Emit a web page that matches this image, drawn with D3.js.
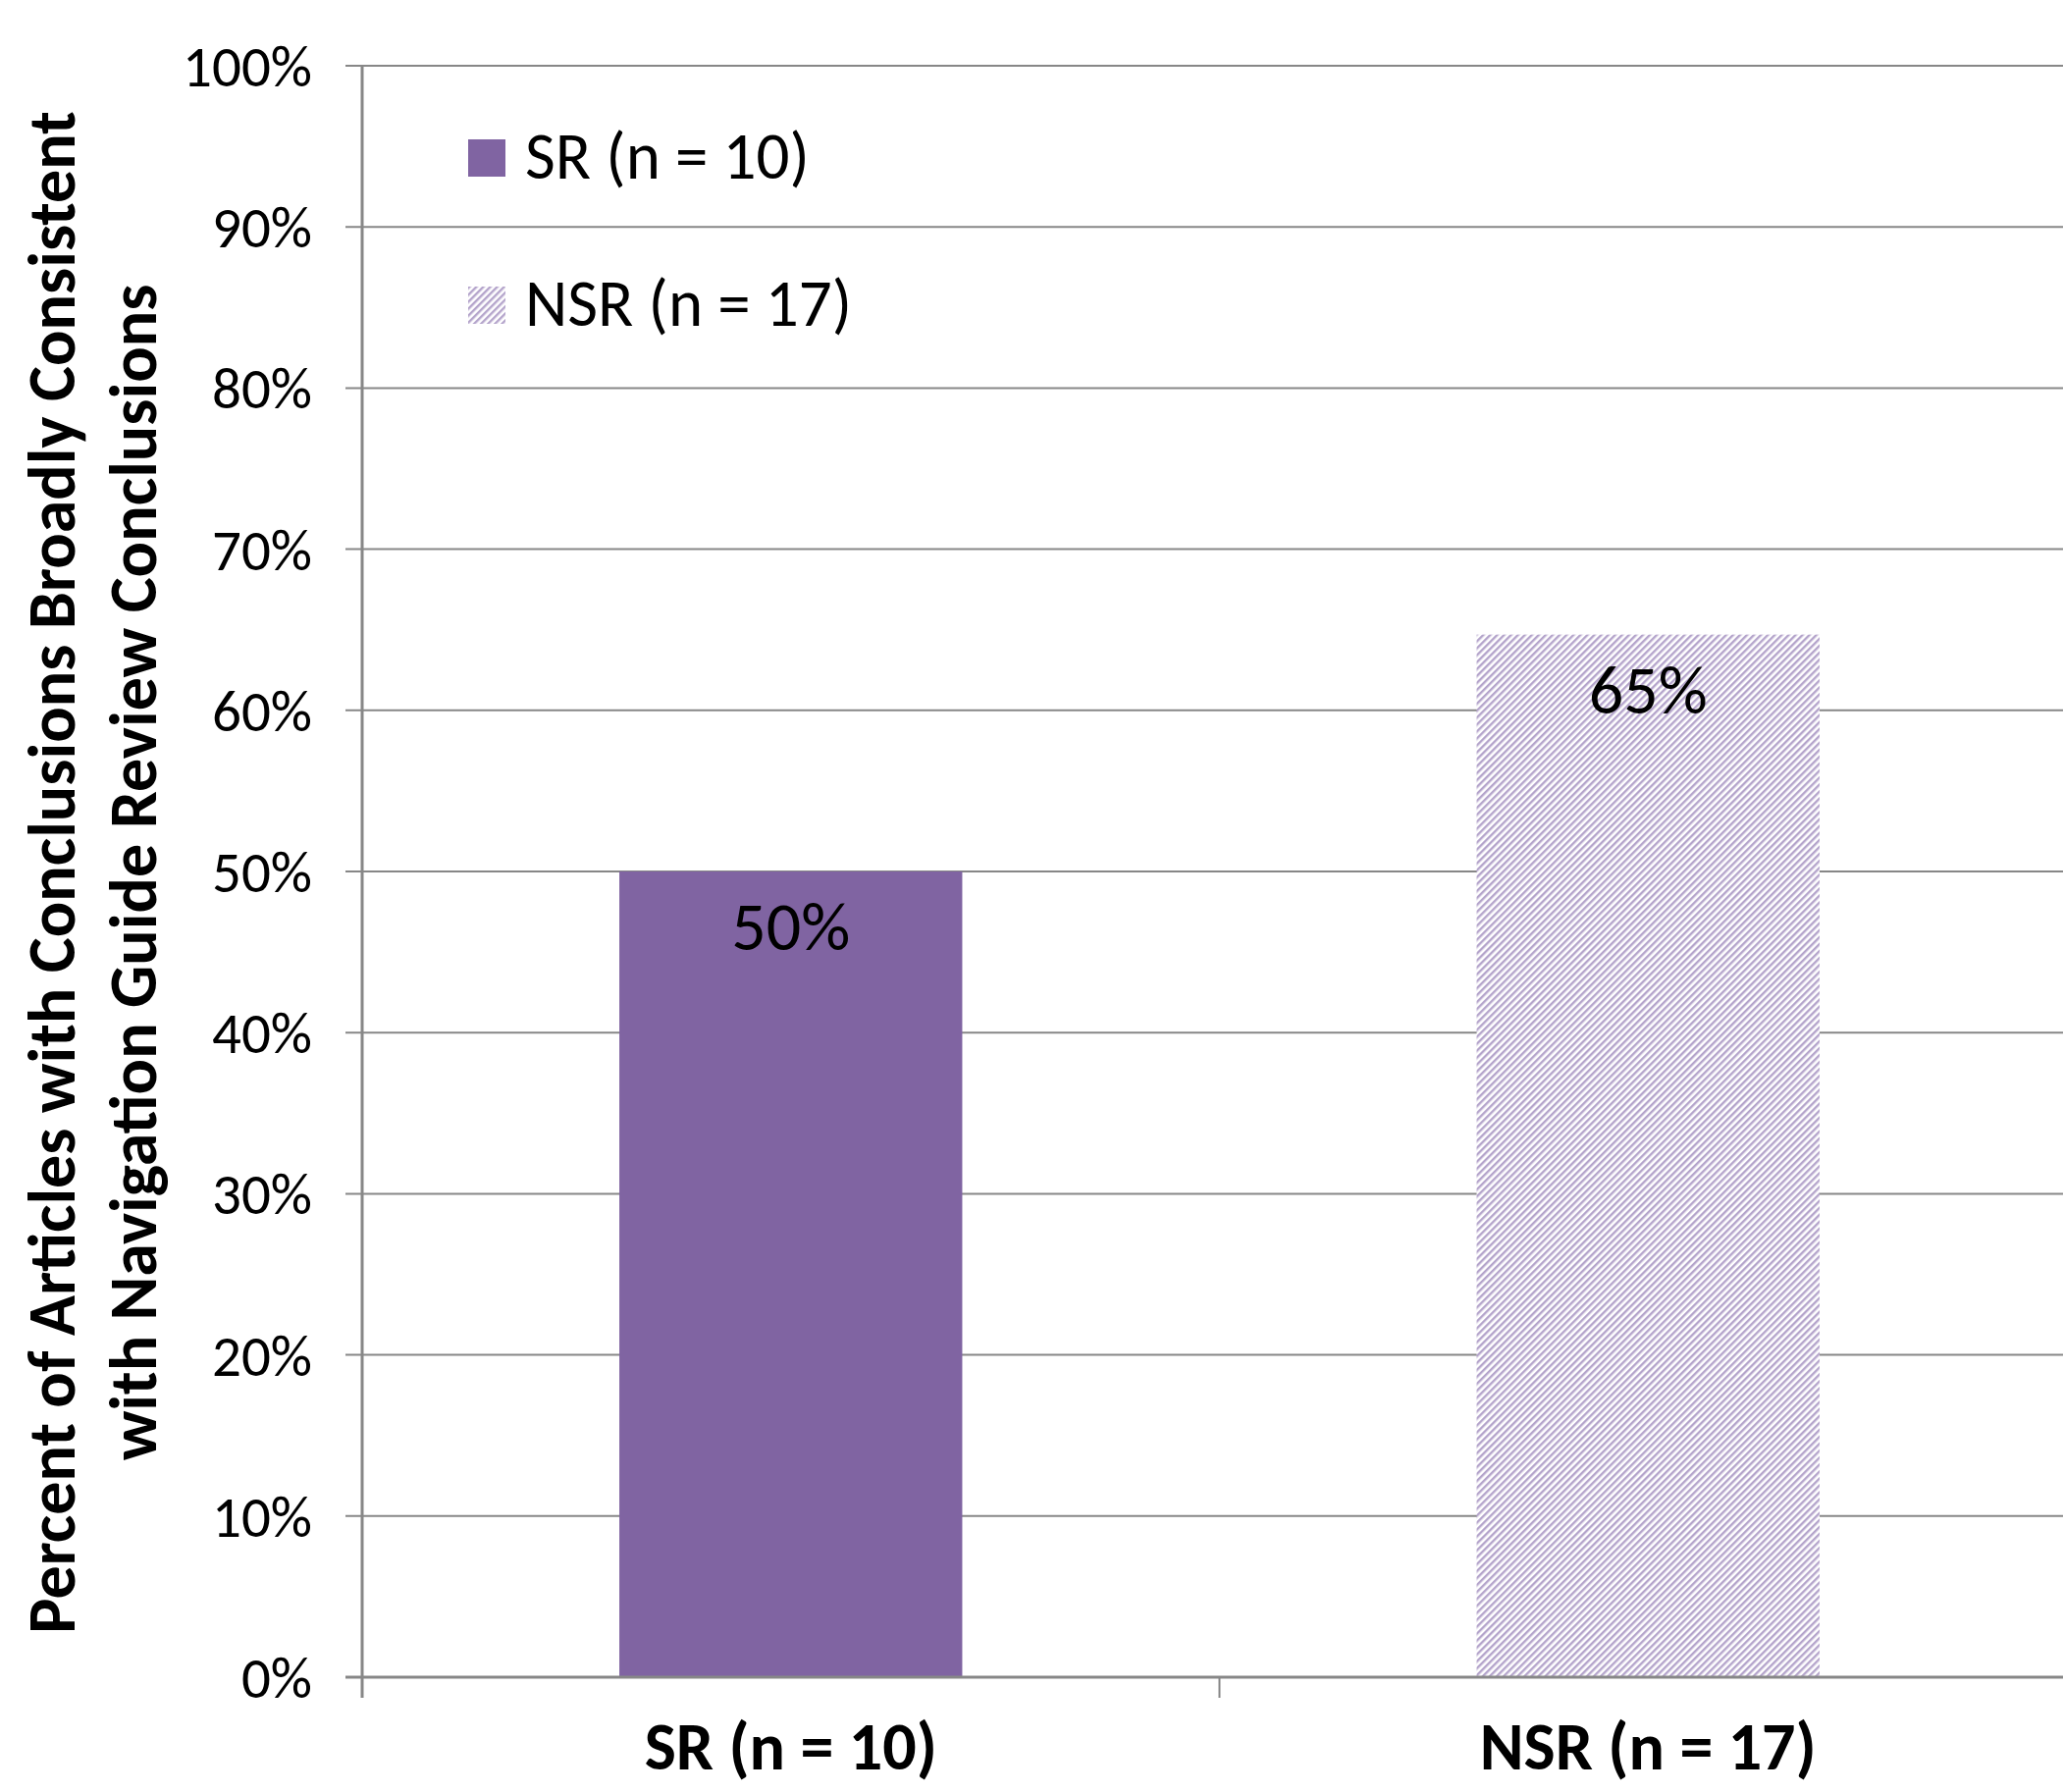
<!DOCTYPE html>
<html lang="en">
	<head>
		<meta charset="utf-8">
		<title>SR vs NSR consistency</title>
		<script src="https://d3js.org/d3.v7.min.js"></script>
		<style type="text/css">
			body { margin: 0; background: #fff; }
			svg { display: block; }
			text { font-family: Carlito, Calibri, Lato, sans-serif; fill: #000; }
			.grid line { stroke: #878787; stroke-width: 2; }
		</style>
	</head>
	<body>
		<script type="text/javascript">

			var categories = ["SR (n = 10)", "NSR (n = 17)"],
				values     = [50, 64.7],          // percent of articles
				barLabels  = ["50%", "65%"],
				yTicks     = [0, 10, 20, 30, 40, 50, 60, 70, 80, 90, 100],
				titleLines = ["Percent of Articles with Conclusions Broadly Consistent",
							  "with Navigation Guide Review Conclusions"];

			var W = 2102, H = 1826,
				margin = {left: 369, right: 2116, top: 67, bottom: 1709};

			var svg = d3.select("body").append("svg")
				.attr("width", W)
				.attr("height", H);

			// hatch for the NSR bar
			var pat = svg.append("defs").append("pattern")
				.attr("id", "hatch")
				.attr("patternUnits", "userSpaceOnUse")
				.attr("width", 5)
				.attr("height", 5)
				.attr("patternTransform", "rotate(45)");
			pat.append("rect").attr("width", 5).attr("height", 5).attr("fill", "#fff");
			pat.append("rect").attr("width", 2.4).attr("height", 5).attr("fill", "#b4a4cb");

			var y = d3.scaleLinear().domain([0, 100]).range([margin.bottom, margin.top]);

			var x = d3.scaleBand()
				.domain(categories)
				.range([margin.left, margin.right])
				.paddingInner(0.6)
				.paddingOuter(0.3);

			var xCat = d3.scaleBand().domain(categories).range([margin.left, margin.right]);

			// gridlines + y tick marks
			svg.append("g").attr("class", "grid")
				.selectAll("line")
				.data(yTicks.slice(1))
				.enter().append("line")
				.attr("x1", margin.left - 17)
				.attr("x2", W)
				.attr("y1", function(d){ return y(d); })
				.attr("y2", function(d){ return y(d); });

			// y tick labels
			svg.append("g")
				.selectAll("text")
				.data(yTicks)
				.enter().append("text")
				.attr("x", 318)
				.attr("y", function(d){ return y(d) + 21; })
				.attr("text-anchor", "end")
				.attr("font-size", "59px")
				.text(function(d){ return d + "%"; });

			// bars
			svg.selectAll("rect.bar")
				.data(values)
				.enter().append("rect")
				.attr("class", "bar")
				.attr("x", function(d, i){ return x(categories[i]); })
				.attr("y", function(d){ return y(d); })
				.attr("width", x.bandwidth())
				.attr("height", function(d){ return margin.bottom - y(d); })
				.attr("fill", function(d, i){ return i === 0 ? "#8064a2" : "url(#hatch)"; });

			// bar value labels
			svg.selectAll("text.val")
				.data(values)
				.enter().append("text")
				.attr("class", "val")
				.attr("x", function(d, i){ return x(categories[i]) + x.bandwidth() / 2; })
				.attr("y", function(d){ return y(d) + 80; })
				.attr("text-anchor", "middle")
				.attr("font-size", "70px")
				.text(function(d, i){ return barLabels[i]; });

			// axes lines
			svg.append("line")
				.attr("x1", margin.left).attr("x2", margin.left)
				.attr("y1", margin.top).attr("y2", margin.bottom + 21)
				.attr("stroke", "#878787").attr("stroke-width", 3);
			svg.append("line")
				.attr("x1", margin.left - 17).attr("x2", W)
				.attr("y1", margin.bottom).attr("y2", margin.bottom)
				.attr("stroke", "#878787").attr("stroke-width", 3);
			svg.append("g")
				.selectAll("line")
				.data(categories.slice(1))
				.enter().append("line")
				.attr("x1", function(d){ return xCat(d); })
				.attr("x2", function(d){ return xCat(d); })
				.attr("y1", margin.bottom)
				.attr("y2", margin.bottom + 21)
				.attr("stroke", "#878787").attr("stroke-width", 2);

			// category labels
			svg.append("g")
				.selectAll("text")
				.data(categories)
				.enter().append("text")
				.attr("x", function(d){ return xCat(d) + xCat.bandwidth() / 2; })
				.attr("y", 1803)
				.attr("text-anchor", "middle")
				.attr("font-size", "68px")
				.attr("font-weight", "bold")
				.text(function(d){ return d; });

			// y title
			svg.append("g")
				.selectAll("text")
				.data(titleLines)
				.enter().append("text")
				.attr("transform", function(d, i){ return "translate(" + (76 + i * 83) + ",889) rotate(-90)"; })
				.attr("text-anchor", "middle")
				.attr("font-size", "68px")
				.attr("font-weight", "bold")
				.text(function(d){ return d; });

			// legend
			var leg = svg.append("g")
				.selectAll("g")
				.data(categories)
				.enter().append("g")
				.attr("transform", function(d, i){ return "translate(477," + (142 + i * 150) + ")"; });
			leg.append("rect")
				.attr("width", 38).attr("height", 38)
				.attr("fill", function(d, i){ return i === 0 ? "#8064a2" : "url(#hatch)"; });
			leg.append("text")
				.attr("x", 58)
				.attr("y", 40)
				.attr("font-size", "67px")
				.text(function(d){ return d; });

		</script>
	</body>
</html>
